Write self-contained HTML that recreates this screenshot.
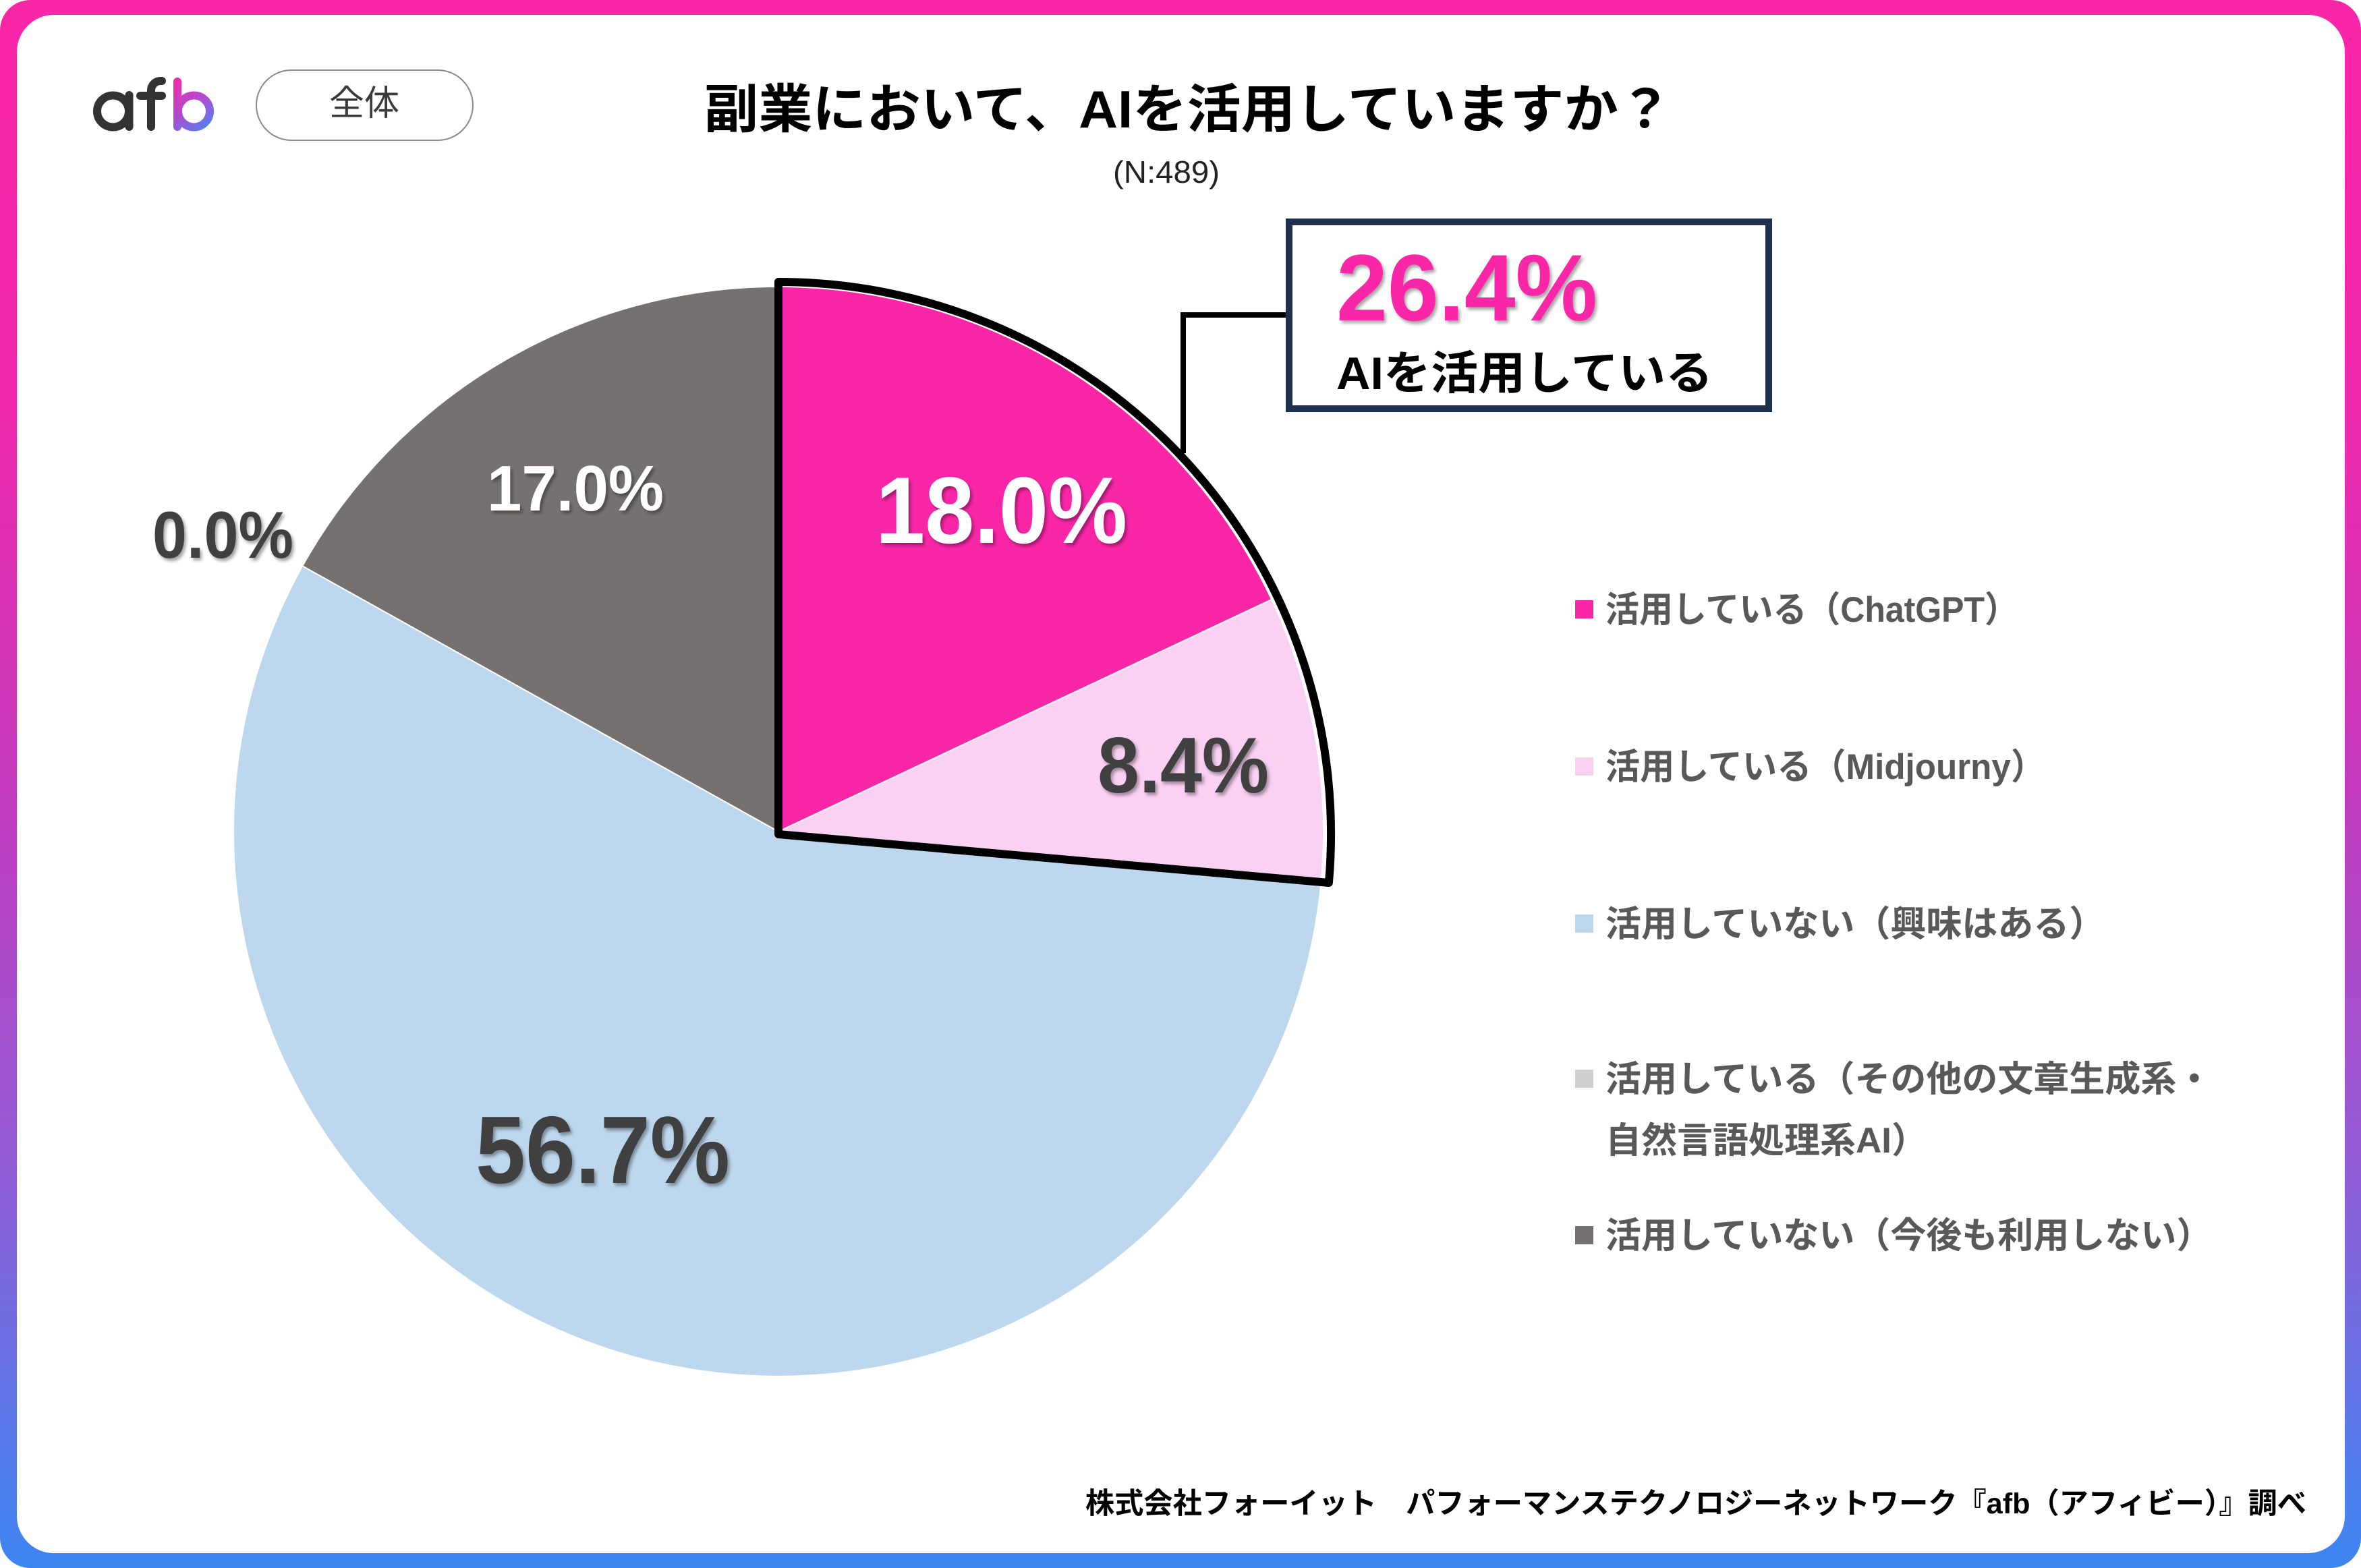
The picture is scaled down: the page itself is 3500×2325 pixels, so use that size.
<!DOCTYPE html>
<html>
<head>
<meta charset="utf-8">
<style>
html,body{margin:0;padding:0;width:3500px;height:2325px;overflow:hidden;background:#fff}
svg{display:block}
text{font-family:"Liberation Sans","Noto Sans CJK JP",sans-serif}
</style>
</head>
<body>
<svg width="3500" height="2325" viewBox="0 0 3500 2325" xmlns="http://www.w3.org/2000/svg">
  <defs>
    <linearGradient id="frameG" x1="0" y1="0" x2="0" y2="2325" gradientUnits="userSpaceOnUse">
      <stop offset="0" stop-color="#FA26A8"/>
      <stop offset="0.25" stop-color="#F028AB"/>
      <stop offset="0.5" stop-color="#C43BBD"/>
      <stop offset="0.75" stop-color="#8F5DD6"/>
      <stop offset="1" stop-color="#3C86F2"/>
    </linearGradient>
    <linearGradient id="bG" x1="257" y1="115" x2="317" y2="195" gradientUnits="userSpaceOnUse">
      <stop offset="0" stop-color="#F52AA5"/>
      <stop offset="0.5" stop-color="#B04CCF"/>
      <stop offset="1" stop-color="#3F8BF5"/>
    </linearGradient>
    <filter id="sh" x="-10%" y="-20%" width="130%" height="150%">
      <feDropShadow dx="3" dy="4" stdDeviation="2.5" flood-color="#000" flood-opacity="0.35"/>
    </filter>
  </defs>

  <!-- frame -->
  <rect x="0" y="0" width="3500" height="2325" rx="45" ry="45" fill="url(#frameG)"/>
  <rect x="25" y="22" width="3451" height="2281" rx="55" ry="55" fill="#fff"/>

  <!-- logo -->
  <g fill="none" stroke-width="12" stroke-linecap="round">
    <circle cx="167.5" cy="165" r="23.5" stroke="#333"/>
    <line x1="191.5" y1="141" x2="191.5" y2="188" stroke="#333"/>
    <path d="M224,188 V134 A14,14 0 0 1 238,120 H240" stroke="#333"/>
    <line x1="208" y1="142" x2="240" y2="142" stroke="#333"/>
    <line x1="263" y1="121" x2="263" y2="188" stroke="url(#bG)"/>
    <circle cx="287.5" cy="165" r="23.5" stroke="url(#bG)"/>
  </g>

  <!-- pill -->
  <rect x="380" y="104" width="321" height="104" rx="52" ry="52" fill="#fff" stroke="#8a8a8a" stroke-width="2"/>
  <text x="540" y="171" font-size="52" fill="#3a3a3a" text-anchor="middle">全体</text>

  <!-- title -->
  <text x="1044" y="189" font-size="78" font-weight="bold" fill="#000" textLength="1435" lengthAdjust="spacingAndGlyphs">副業において、AIを活用していますか？</text>
  <text x="1650" y="271" font-size="46" fill="#222" textLength="158" lengthAdjust="spacingAndGlyphs">(N:489)</text>

  <!-- pie -->
  <g stroke="#fff" stroke-width="2" stroke-linejoin="round">
    <path d="M1154,1233 L1958.9,1304 A808,808 0 1 1 448.4,839.2 Z" fill="#BDD7EE"/>
    <path d="M1154,1233 L448.4,839.2 A808,808 0 0 1 1154,425 Z" fill="#767171"/>
    <path d="M1154,1233 L1154,425 A808,808 0 0 1 1885.1,889 Z" fill="#F926A8"/>
    <path d="M1154,1233 L1885.1,889 A808,808 0 0 1 1958.9,1304 Z" fill="#FBD1F3"/>
  </g>
  <!-- highlight outline -->
  <path d="M1154,1237 L1154,418 A819,819 0 0 1 1969.9,1309 Z" fill="none" stroke="#000" stroke-width="12" stroke-linejoin="round"/>

  <!-- connector -->
  <path d="M1910,467 H1754 V672" fill="none" stroke="#000" stroke-width="8"/>

  <!-- callout box -->
  <rect x="1911" y="329" width="711" height="277" fill="#fff" stroke="#1F3050" stroke-width="10"/>
  <text x="1981" y="475" font-size="140" font-weight="bold" fill="#F926A8" textLength="387" lengthAdjust="spacingAndGlyphs" filter="url(#sh)">26.4%</text>
  <text x="1981" y="577" font-size="68" font-weight="bold" fill="#000" textLength="558" lengthAdjust="spacingAndGlyphs">AIを活用している</text>

  <!-- pie labels -->
  <g font-weight="bold" filter="url(#sh)">
    <text x="1298" y="805" font-size="140" fill="#fff" textLength="373" lengthAdjust="spacingAndGlyphs">18.0%</text>
    <text x="1627" y="1175" font-size="117" fill="#404040" textLength="254" lengthAdjust="spacingAndGlyphs">8.4%</text>
    <text x="705" y="1754" font-size="142" fill="#404040" textLength="377" lengthAdjust="spacingAndGlyphs">56.7%</text>
    <text x="722" y="757" font-size="96" fill="#fff" textLength="262" lengthAdjust="spacingAndGlyphs">17.0%</text>
    <text x="226" y="827" font-size="98" fill="#404040" textLength="209" lengthAdjust="spacingAndGlyphs">0.0%</text>
  </g>

  <!-- legend -->
  <rect x="2335" y="890" width="27" height="27" fill="#F926A8"/>
  <rect x="2335" y="1123" width="27" height="27" fill="#FBD1F3"/>
  <rect x="2335" y="1356" width="27" height="27" fill="#BDD7EE"/>
  <rect x="2335" y="1586" width="27" height="27" fill="#D0CECE"/>
  <rect x="2335" y="1818" width="27" height="27" fill="#767171"/>
  <g font-size="53" font-weight="bold" fill="#595959">
    <text x="2380" y="922" textLength="612" lengthAdjust="spacingAndGlyphs">活用している（ChatGPT）</text>
    <text x="2380" y="1155" textLength="652" lengthAdjust="spacingAndGlyphs">活用している（Midjourny）</text>
    <text x="2380" y="1388">活用していない（興味はある）</text>
    <text x="2380" y="1618">活用している（その他の文章生成系・</text>
    <text x="2380" y="1709">自然言語処理系AI）</text>
    <text x="2380" y="1850">活用していない（今後も利用しない）</text>
  </g>

  <!-- footer -->
  <text x="1609" y="2244" font-size="43" font-weight="bold" fill="#000" textLength="1810" lengthAdjust="spacingAndGlyphs">株式会社フォーイット　パフォーマンステクノロジーネットワーク『afb（アフィビー）』調べ</text>
</svg>
</body>
</html>
